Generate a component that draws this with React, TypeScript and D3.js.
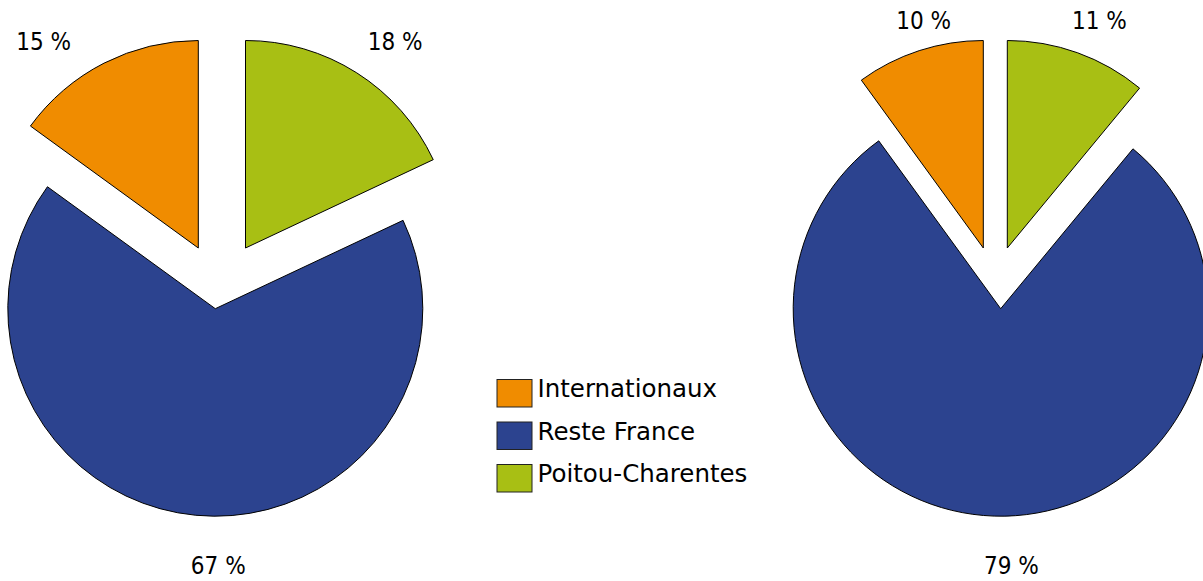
import React from "react";
import * as d3 from "d3";

// ---- data ----
const categories = ["Poitou-Charentes", "Reste France", "Internationaux"];
const pieLeftValues = [18, 67, 15];
const pieRightValues = [11, 79, 10];
const legendOrder = ["Internationaux", "Reste France", "Poitou-Charentes"];

// ---- styles ----
const colors: Record<string, string> = {
  "Internationaux": "#F08C00",
  "Reste France": "#2C438F",
  "Poitou-Charentes": "#A8BF14",
};
const W = 1203;
const H = 581;
const R = 207.5;

type PieCfg = {
  values: number[];
  cx: number;
  cy: number;
  explode: [number, number][];
  labelNudge: [number, number][];
};

const pies: PieCfg[] = [
  {
    values: pieLeftValues,
    cx: 219.3,
    cy: 289.3,
    explode: [[26.2, -41.3], [-4, 19.4], [-21, -41.3]],
    labelNudge: [[0, 0], [24.4, 20.3], [-23.8, 10.1]],
  },
  {
    values: pieRightValues,
    cx: 994.7,
    cy: 283,
    explode: [[12.6, -35], [6, 25.7], [-11.4, -35]],
    labelNudge: [[-12.5, 0.5], [17.8, 19.4], [38.2, 2.8]],
  },
];

const labelFont = "'DejaVu Sans Condensed', 'DejaVu Sans', sans-serif";
const legendFont = "'DejaVu Sans', sans-serif";

function Pie({ cfg }: { cfg: PieCfg }) {
  const pie = d3.pie<number>().sort(null).value((d) => d);
  const arcs = pie(cfg.values);
  const arc = d3.arc<d3.PieArcDatum<number>>().innerRadius(0).outerRadius(R);
  const L = 228;
  return (
    <g>
      {arcs.map((a, i) => {
        const [dx, dy] = cfg.explode[i];
        const ax = cfg.cx + dx;
        const ay = cfg.cy + dy;
        const mid = (a.startAngle + a.endAngle) / 2;
        const s = Math.sin(mid);
        const c = Math.cos(mid);
        let px = ax + L * s;
        let py = ay - L * c;
        const anchor = s > 0.3 ? "start" : s < -0.3 ? "end" : "middle";
        const baseline = c > 0 ? py - 5 : py + 18;
        const [nx, ny] = cfg.labelNudge[i];
        return (
          <g key={i}>
            <path
              d={arc(a) || ""}
              transform={`translate(${ax},${ay})`}
              fill={colors[categories[i]]}
              stroke="#000"
              strokeWidth={1}
            />
            <text
              x={px + nx}
              y={baseline + ny}
              textAnchor={anchor}
              fontFamily={labelFont}
              fontSize={24}
              fill="#000"
            >
              {`${cfg.values[i]} %`}
            </text>
          </g>
        );
      })}
    </g>
  );
}

export default function App() {
  const legendY = d3
    .scalePoint<string>()
    .domain(legendOrder)
    .range([379.5, 464.5]);
  return (
    <svg
      width={W}
      height={H}
      style={{ position: "absolute", left: 0, top: 0, background: "#fff" }}
    >
      {pies.map((p, i) => (
        <Pie key={i} cfg={p} />
      ))}
      <g>
        {legendOrder.map((name) => {
          const y = legendY(name) as number;
          return (
            <g key={name}>
              <rect
                x={497}
                y={y}
                width={35}
                height={27.5}
                fill={colors[name]}
                stroke="#222"
                strokeWidth={1}
              />
              <text
                x={537.5}
                y={y + 17.5}
                fontFamily={legendFont}
                fontSize={24.5}
                fill="#000"
              >
                {name}
              </text>
            </g>
          );
        })}
      </g>
    </svg>
  );
}
